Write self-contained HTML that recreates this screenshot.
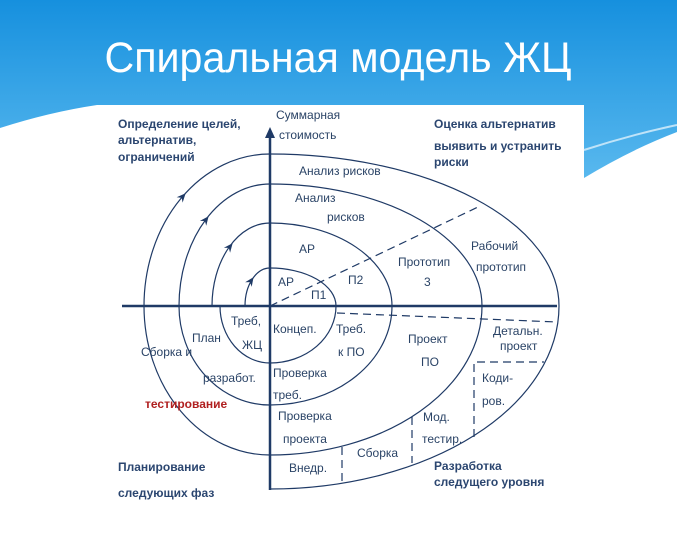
<!DOCTYPE html>
<html><head><meta charset="utf-8"><style>
html,body{margin:0;padding:0;}
body{width:677px;height:539px;overflow:hidden;position:relative;background:#fff;font-family:"Liberation Sans",sans-serif;}
svg{position:absolute;left:0;top:0;}
</style></head><body>
<svg width="677" height="539" viewBox="0 0 677 539" xmlns="http://www.w3.org/2000/svg">
<defs>
<linearGradient id="bg" x1="0" y1="0" x2="0" y2="1">
<stop offset="0" stop-color="#1690de"/>
<stop offset="1" stop-color="#6cc4f3"/>
</linearGradient>
</defs>
<rect x="0" y="0" width="677" height="230" fill="url(#bg)"/>
<path d="M0,150 Q40,120 97,108 L97,539 L0,539Z" fill="#dff0fb" opacity="0.7"/>
<path d="M0,128 Q50,112 97,105 L584,105 L584,178 Q630,150 677,132 L677,539 L0,539Z" fill="#fff"/>
<path d="M584,150 Q630,135 677,125" stroke="#bfe3f8" fill="none" stroke-width="2"/>
<text x="338" y="72" text-anchor="middle" font-family="Liberation Sans,sans-serif" font-size="43" fill="#fff" textLength="467" lengthAdjust="spacingAndGlyphs">Спиральная модель  ЖЦ</text>

<g fill="none" stroke="#1f3a66" stroke-width="1.2">
<!-- arc1 -->
<path d="M245,306 A25,38 0 0 1 270,268 A66,38 0 0 1 336,306 A66,57 0 0 1 270,363 A50,57 0 0 1 220,306"/>
<!-- arc2 -->
<path d="M212,306 A58,83 0 0 1 270,223 A122,83 0 0 1 392,306 A122,99 0 0 1 270,405 A91,99 0 0 1 179,306"/>
<!-- arc3 -->
<path d="M179,306 A91,122 0 0 1 270,184 A212,122 0 0 1 482,306 A212,149 0 0 1 270,455 A126,149 0 0 1 144,306"/>
<!-- arc4 -->
<path d="M144,306 A126,152 0 0 1 270,154 A289,152 0 0 1 559,306 A289,183 0 0 1 270,489"/>
<g stroke-dasharray="8,5">
<path d="M270,306 L478,207"/>
<path d="M337,313 L557,322"/>
<path d="M474,437 L474,362 L544,362"/>
<path d="M412,417 L412,463"/>
<path d="M342,447 L342,482"/>
</g>
</g>
<line x1="122" y1="306" x2="557" y2="306" stroke="#1f3a66" stroke-width="2.5"/>
<line x1="270" y1="490" x2="270" y2="132" stroke="#1f3a66" stroke-width="2.5"/>
<path d="M265,138 L270,127 L275,138Z" fill="#1f3a66"/>
<g fill="#1f3a66">
<path d="M-8,-4 L1,0 L-8,4 L-5,0Z" transform="translate(185,194) rotate(-48)"/>
<path d="M-8,-4 L1,0 L-8,4 L-5,0Z" transform="translate(208,217) rotate(-52)"/>
<path d="M-8,-4 L1,0 L-8,4 L-5,0Z" transform="translate(232,244) rotate(-51)"/>
<path d="M-8,-4 L1,0 L-8,4 L-5,0Z" transform="translate(253,278) rotate(-55)"/>
</g>

<g font-family="Liberation Sans,sans-serif" font-size="12" fill="#2a4366">
<text x="276" y="119">Суммарная</text>
<text x="279" y="139">стоимость</text>
<text x="299" y="175">Анализ рисков</text>
<text x="295" y="202">Анализ</text>
<text x="327" y="221">рисков</text>
<text x="299" y="253">АР</text>
<text x="278" y="286">АР</text>
<text x="348" y="284">П2</text>
<text x="311" y="299">П1</text>
<text x="398" y="266">Прототип</text>
<text x="424" y="286">3</text>
<text x="471" y="250">Рабочий</text>
<text x="476" y="271">прототип</text>
<text x="231" y="325">Треб,</text>
<text x="242" y="349">ЖЦ</text>
<text x="273" y="333">Концеп.</text>
<text x="336" y="333">Треб.</text>
<text x="338" y="356">к ПО</text>
<text x="192" y="342">План</text>
<text x="141" y="356">Сборка и</text>
<text x="203" y="382">разработ.</text>
<text x="273" y="377">Проверка</text>
<text x="273" y="399">треб.</text>
<text x="278" y="420">Проверка</text>
<text x="283" y="443">проекта</text>
<text x="408" y="343">Проект</text>
<text x="421" y="366">ПО</text>
<text x="493" y="335">Детальн.</text>
<text x="500" y="350">проект</text>
<text x="482" y="382">Коди-</text>
<text x="482" y="405">ров.</text>
<text x="423" y="421">Мод.</text>
<text x="422" y="443">тестир.</text>
<text x="357" y="457">Сборка</text>
<text x="289" y="472">Внедр.</text>
</g>
<g font-family="Liberation Sans,sans-serif" font-size="12" font-weight="bold" fill="#2b4670">
<text x="118" y="128">Определение  целей,</text>
<text x="118" y="144">альтернатив,</text>
<text x="118" y="161">ограничений</text>
<text x="434" y="128">Оценка альтернатив</text>
<text x="434" y="150">выявить и устранить</text>
<text x="434" y="166">риски</text>
<text x="118" y="471">Планирование</text>
<text x="118" y="497">следующих фаз</text>
<text x="434" y="470">Разработка</text>
<text x="434" y="486">следущего уровня</text>
<text x="145" y="408" fill="#b02020">тестирование</text>
</g>
</svg>
</body></html>
